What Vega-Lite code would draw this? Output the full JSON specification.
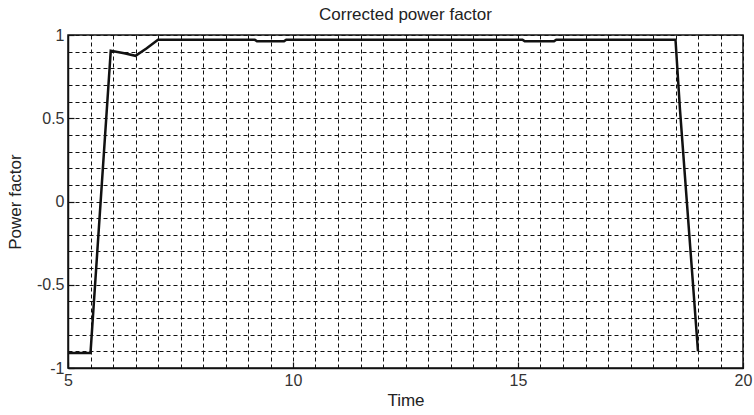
{
  "$schema": "https://vega.github.io/schema/vega-lite/v6.json",
  "width": 675,
  "height": 333,
  "autosize": "none",
  "padding": {"left": 68, "top": 35, "right": 11, "bottom": 47},
  "background": "white",
  "title": {"text": "Corrected power factor", "font": "Liberation Sans", "fontSize": 17, "fontWeight": "normal", "color": "#222", "offset": 3},
  "config": {
    "view": {"stroke": "#111", "strokeWidth": 1.5},
    "axis": {
      "labelFont": "Liberation Sans", "labelFontSize": 16, "labelColor": "#333",
      "titleFont": "Liberation Sans", "titleFontSize": 17, "titleFontWeight": "normal", "titleColor": "#222",
      "domainColor": "#111", "domainWidth": 1.5,
      "gridColor": "#111", "gridDash": [4, 3], "gridOpacity": 1, "gridWidth": 1,
      "tickColor": "#111", "tickSize": -6, "tickWidth": 1.2, "labelPadding": 10
    }
  },
  "data": {"values": [
    {"t": 5.0, "pf": -0.91},
    {"t": 5.5, "pf": -0.91},
    {"t": 5.95, "pf": 0.905},
    {"t": 6.25, "pf": 0.89},
    {"t": 6.5, "pf": 0.875},
    {"t": 6.75, "pf": 0.92},
    {"t": 7.0, "pf": 0.972},
    {"t": 9.15, "pf": 0.972},
    {"t": 9.2, "pf": 0.962},
    {"t": 9.8, "pf": 0.962},
    {"t": 9.85, "pf": 0.972},
    {"t": 15.1, "pf": 0.972},
    {"t": 15.15, "pf": 0.962},
    {"t": 15.8, "pf": 0.962},
    {"t": 15.85, "pf": 0.972},
    {"t": 18.5, "pf": 0.972},
    {"t": 18.6, "pf": 0.55},
    {"t": 19.0, "pf": -0.9}
  ]},
  "mark": {"type": "line", "color": "#111", "strokeWidth": 2.5},
  "encoding": {
    "x": {
      "field": "t", "type": "quantitative", "title": "Time",
      "scale": {"domain": [5, 20], "nice": false, "zero": false},
      "axis": {
        "values": [5,5.5,6,6.5,7,7.5,8,8.5,9,9.5,10,10.5,11,11.5,12,12.5,13,13.5,14,14.5,15,15.5,16,16.5,17,17.5,18,18.5,19,19.5,20],
        "labelExpr": "datum.value % 5 === 0 ? '' + datum.value : ''",
        "tickOpacity": {"condition": {"test": "datum.value % 5 === 0", "value": 1}, "value": 0},
        "titlePadding": 4,
        "labelFlush": false
      }
    },
    "y": {
      "field": "pf", "type": "quantitative", "title": "Power factor",
      "scale": {"domain": [-1, 1], "nice": false},
      "axis": {
        "values": [-1,-0.9,-0.8,-0.7,-0.6,-0.5,-0.4,-0.3,-0.2,-0.1,0,0.1,0.2,0.3,0.4,0.5,0.6,0.7,0.8,0.9,1],
        "labelExpr": "abs(datum.value * 2 - round(datum.value * 2)) < 0.001 ? '' + datum.value : ''",
        "tickOpacity": {"condition": {"test": "abs(datum.value * 2 - round(datum.value * 2)) < 0.001", "value": 1}, "value": 0},
        "titlePadding": 12,
        "labelFlush": false
      }
    }
  }
}
